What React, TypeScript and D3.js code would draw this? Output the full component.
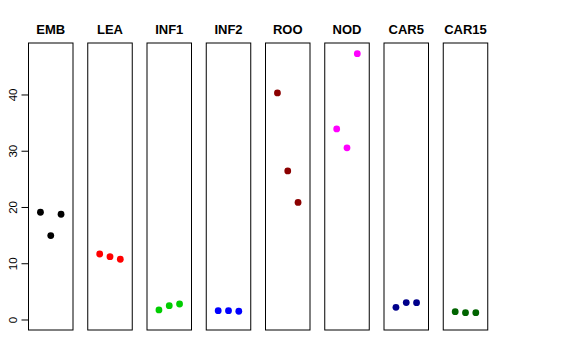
import React from "react";
import * as d3 from "d3";

const categories = ["EMB", "LEA", "INF1", "INF2", "ROO", "NOD", "CAR5", "CAR15"];
const colors = ["#000000", "#FF0000", "#00CD00", "#0000FF", "#8B0000", "#FF00FF", "#00008B", "#006400"];
const values: number[][] = [
  [19.15, 15.0, 18.8],
  [11.73, 11.26, 10.8],
  [1.78, 2.55, 2.84],
  [1.66, 1.66, 1.55],
  [40.36, 26.5, 20.9],
  [33.96, 30.6, 47.35],
  [2.25, 3.1, 3.08],
  [1.48, 1.3, 1.3],
];
const yTicks = [0, 10, 20, 30, 40];

export default function App() {
  const W = 576, H = 360;
  const top = 43, bottom = 330;
  const firstLeft = 28.5, step = 59.25, pw = 44.5;
  const y = d3.scaleLinear().domain([-1.78, 49.24]).range([bottom, top]);
  const x = d3.scaleLinear().domain([-0.16, 4.16]).range([0, pw]);
  return (
    <svg width={W} height={H} style={{ position: "absolute", left: 0, top: 0 }}>
      <rect width={W} height={H} fill="white" />
      {categories.map((c, i) => {
        const left = firstLeft + i * step;
        return (
          <g key={c} transform={`translate(${left},0)`}>
            <rect x={0} y={top} width={pw} height={bottom - top} fill="none" stroke="black" strokeWidth={1} />
            <text x={pw / 2} y={34} textAnchor="middle" fontFamily="Liberation Sans, Arial, sans-serif" fontWeight="bold" fontSize={13}>{c}</text>
            {values[i].map((v, j) => (
              <circle key={j} cx={x(j + 1)} cy={y(v)} r={3.4} fill={colors[i]} />
            ))}
          </g>
        );
      })}
      <g>
        <line x1={firstLeft} x2={firstLeft} y1={y(0)} y2={y(40)} stroke="black" />
        {yTicks.map((t) => (
          <g key={t} transform={`translate(${firstLeft},${y(t)})`}>
            <line x1={-7} x2={0} stroke="black" />
            <text transform="translate(-12,0) rotate(-90)" textAnchor="middle" fontFamily="Liberation Sans, Arial, sans-serif" fontSize={11.5}>{t}</text>
          </g>
        ))}
      </g>
    </svg>
  );
}
